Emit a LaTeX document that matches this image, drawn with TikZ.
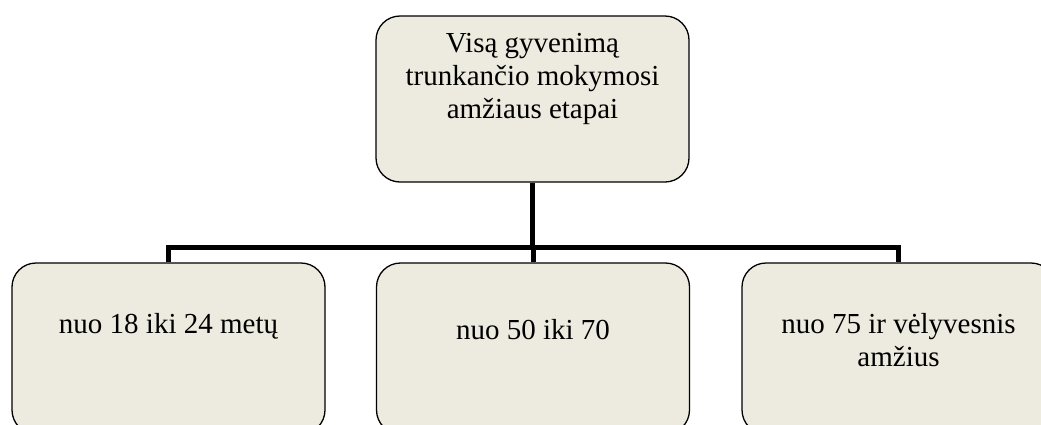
\documentclass[tikz,border=0pt]{standalone}
\usepackage{fontspec}
\setmainfont{Liberation Serif}
\definecolor{boxfill}{HTML}{EDEAE0}
\begin{document}
\begin{tikzpicture}[x=1pt,y=-1pt,
  box/.style={draw=black, line width=1.3pt, fill=boxfill, rounded corners=24pt, minimum width=313pt, inner sep=0pt},
  txt/.style={align=center, inner sep=0pt, font=\fontsize{29}{33}\selectfont},
  conn/.style={line width=5pt}]
\useasboundingbox (0,0) rectangle (1041,424);
\clip (0,0) rectangle (1041,424);
\node[box, minimum height=166pt] (stage) at (532.5,99){};
\node[txt, anchor=north] (stagetxt) at ([yshift=-18pt]stage.north){Visą gyvenimą\\trunkančio mokymosi\\amžiaus etapai};
\node[box, minimum height=171pt] (age1) at (168.5,348.5){};
\node[txt, anchor=north] (age1txt) at ([yshift=-51pt]age1.north){nuo 18 iki 24 metų};
\node[box, minimum height=171pt] (age2) at (533,348.5){};
\node[txt, anchor=north] (age2txt) at ([yshift=-57pt]age2.north){nuo 50 iki 70};
\node[box, minimum height=171pt] (age3) at (898.5,348.5){};
\node[txt, anchor=north] (age3txt) at ([yshift=-51pt]age3.north){nuo 75 ir vėlyvesnis\\amžius};
\coordinate (bus) at (stage.south |- 0,247);
\draw[conn](stage.south) -- (bus);
\draw[conn](bus) -| (age1.north);
\draw[conn](bus) -| (age2.north);
\draw[conn](bus) -| (age3.north);
\end{tikzpicture}
\end{document}
